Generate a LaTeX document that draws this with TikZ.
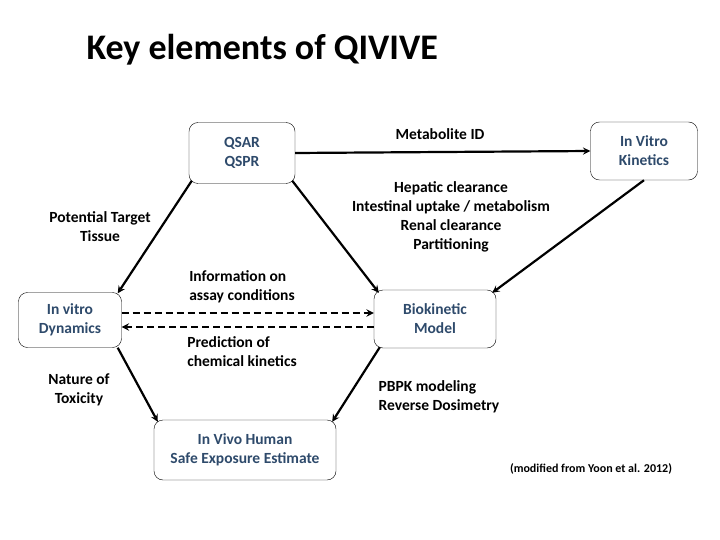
\documentclass[tikz,border=0pt]{standalone}
\usepackage{fontspec}
\setmainfont{Carlito}
\usepackage{xcolor}
\usetikzlibrary{positioning}
\definecolor{boxtext}{HTML}{2E4A6B}
\begin{document}
\begin{tikzpicture}[x=1pt,y=-1pt,
  elem/.style={draw, rounded corners=9pt, font=\fontsize{15.5}{19}\selectfont\bfseries, text=boxtext, align=center, inner sep=0pt},
  lbl/.style={font=\fontsize{15.5}{19}\selectfont\bfseries, align=center},
  link/.style={->, >=stealth, line width=2.2pt}]
\useasboundingbox (0,0) rectangle (720,540);
\node[font=\fontsize{36}{44}\selectfont\bfseries, anchor=west] (title) at (83,50) {Key elements of QIVIVE};
% boxes
\node[elem, minimum width=106pt, minimum height=61pt] (qsar) at (242,153) {QSAR\\QSPR};
\node[elem, minimum width=107pt, minimum height=58pt] (kin) at (644,151) {In Vitro\\Kinetics};
\node[elem, minimum width=103pt, minimum height=55pt] (dyn) at (70,320) {In vitro\\Dynamics};
\node[elem, minimum width=122pt, minimum height=58pt] (bio) at (435,319) {Biokinetic\\Model};
\node[elem, minimum width=182pt, minimum height=60pt] (vivo) at (245,450) {In Vivo Human\\Safe Exposure Estimate};
% connectors
\draw[link] (qsar.east) -- (kin.west);
\draw[link] ([xshift=3pt,yshift=3pt]qsar.south west) -- ([xshift=-4pt,yshift=-1pt]dyn.north east);
\draw[link] ([xshift=-3pt,yshift=3pt]qsar.south east) -- ([xshift=5pt,yshift=-3pt]bio.north west);
\draw[link] (kin.south) -- ([xshift=-4pt,yshift=-3pt]bio.north east);
\draw[link] ([xshift=-4pt]dyn.south east) -- ([xshift=4pt,yshift=-2pt]vivo.north west);
\draw[link] ([xshift=6pt,yshift=1pt]bio.south west) -- ([xshift=-4pt,yshift=-2pt]vivo.north east);
\draw[link, dash pattern=on 7pt off 4pt] ([yshift=7pt]dyn.east) -- ([yshift=6pt]bio.west);
\draw[link, dash pattern=on 7pt off 4pt] ([yshift=-8pt]bio.west) -- ([yshift=-7pt]dyn.east);
% labels
\node[lbl] (metid) at (440,134) {Metabolite ID};
\node[lbl] (hep) at (451,217) {Hepatic clearance\\Intestinal uptake / metabolism\\Renal clearance\\Partitioning};
\node[lbl] (tissue) at (100,227) {Potential Target\\Tissue};
\node[lbl, align=left] (assay) at (242,287) {Information on\\assay conditions};
\node[lbl, align=left] (pred) at (242,352) {Prediction of\\chemical kinetics};
\node[lbl] (tox) at (79,390) {Nature of\\Toxicity};
\node[lbl, align=left] (pbpk) at (439,397) {PBPK modeling\\Reverse Dosimetry};
\node[font=\fontsize{12}{14}\selectfont\bfseries] (src) at (591,469) {(modified from Yoon et al. 2012)};
\end{tikzpicture}
\end{document}
